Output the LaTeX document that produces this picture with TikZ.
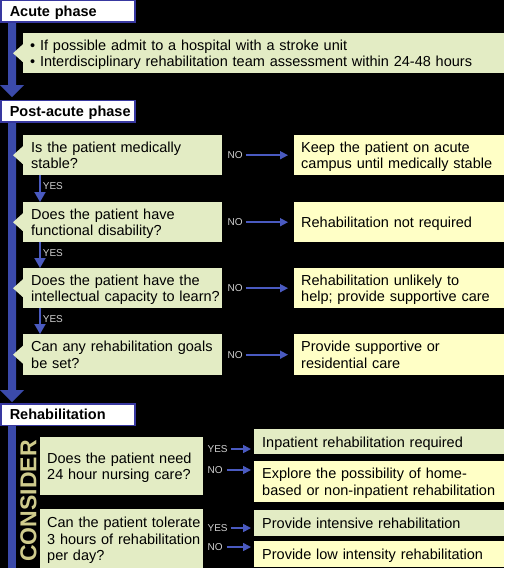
\documentclass[tikz,border=0pt]{standalone}
\usepackage{fontspec}
\setmainfont{Liberation Sans}
\usetikzlibrary{arrows.meta}
\definecolor{barblue}{HTML}{3B4AAA}
\definecolor{hdrblue}{HTML}{3838A0}
\definecolor{qfill}{HTML}{E3ECC4}
\definecolor{afill}{HTML}{FFFFC6}
\definecolor{considercol}{HTML}{CFCB8C}
\definecolor{lblgray}{HTML}{D0D0D0}
\definecolor{arrblue}{HTML}{4A5AC0}
\newcommand\boxlines[1]{\raisebox{-2.2pt}[\height][\depth]{\begin{tabular}{@{}l@{}}#1\end{tabular}}}
\begin{document}
\begin{tikzpicture}[x=1pt,y=-1pt,
  txt/.style={font=\fontsize{14.5}{16.5}\selectfont, text=black, align=left, anchor=north west, inner ysep=0pt},
  hdr/.style={draw=hdrblue, line width=1.5pt, fill=white, anchor=north west, minimum height=21.5pt,
              text width=116pt, inner xsep=9pt, inner ysep=0pt, align=left,
              font=\fontsize{14.5}{16}\selectfont\bfseries},
  qbox/.style={txt, fill=qfill, text width=183pt, inner xsep=8pt, minimum height=40pt},
  abox/.style={txt, fill=afill, text width=196pt, inner xsep=7pt, minimum height=40pt},
  rq/.style={txt, fill=qfill, text width=149pt, inner xsep=7pt},
  ra/.style={txt, text width=234pt, inner xsep=8pt},
  lbl/.style={font=\fontsize{10}{10}\selectfont, text=lblgray, inner sep=1pt},
  harr/.style={draw=arrblue, line width=1.6pt, -{Triangle[length=8pt,width=8pt]}},
  varr/.style={draw=arrblue, line width=1.8pt, -{Triangle[length=10pt,width=11pt]}},
  notch/.style={fill=qfill}
]
\useasboundingbox (0,0) rectangle (504,568);
\fill[black] (0,0) rectangle (504,568);
% phase bars
\fill[barblue] (8,21) -- (16,21) -- (16,85) -- (24,85) -- (12,97) -- (0,85) -- (8,85) -- cycle;
\fill[barblue] (8,121) -- (16,121) -- (16,390) -- (24,390) -- (12,402) -- (0,390) -- (8,390) -- cycle;
\fill[barblue] (8,424) rectangle (16,568);
% headers
\node[hdr] (h1) at (0,-0.5) {\boxlines{Acute phase}};
\node[hdr] (h2) at (0,99.5) {\boxlines{Post-acute phase}};
\node[hdr] (h3) at (0,403) {\boxlines{Rehabilitation}};
% acute phase
\node[qbox, text width=467pt, inner xsep=7pt] (acute) at (23,33)
  {\boxlines{\textbullet\ If possible admit to a hospital with a stroke unit\\
   \textbullet\ Interdisciplinary rehabilitation team assessment within 24-48 hours}};
\fill[notch] ([yshift=9pt]acute.west) -- ([xshift=-10pt]acute.west) -- ([yshift=-9pt]acute.west) -- cycle;
% post-acute questions
\node[qbox] (q1) at (23,135) {\boxlines{Is the patient medically\\stable?}};
\node[qbox] (q2) at (23,202) {\boxlines{Does the patient have\\functional disability?}};
\node[qbox] (q3) at (23,268) {\boxlines{Does the patient have the\\intellectual capacity to learn?}};
\node[qbox, minimum height=41pt] (q4) at (23,334) {\boxlines{Can any rehabilitation goals\\be set?}};
\foreach \q in {q1,q2,q3,q4}{
  \fill[notch] ([yshift=9pt]\q.west) -- ([xshift=-10pt]\q.west) -- ([yshift=-9pt]\q.west) -- cycle;
}
% post-acute answers
\node[abox] (a1) at (294,135) {\boxlines{Keep the patient on acute\\campus until medically stable}};
\node[abox] (a2) at (294,202) {\boxlines{Rehabilitation not required}};
\node[abox] (a3) at (294,268) {\boxlines{Rehabilitation unlikely to\\help; provide supportive care}};
\node[abox, minimum height=41pt] (a4) at (294,334) {\boxlines{Provide supportive or\\residential care}};
% NO arrows
\foreach \i in {1,2,3,4}{
  \node[lbl, anchor=west] (n\i) at ([xshift=4pt]q\i.east) {NO};
  \draw[harr, shorten <=2pt, shorten >=6pt] (n\i.east) -- (a\i.west);
}
% YES arrows
\draw[varr] ([xshift=17pt]q1.south west) -- node[lbl, right, pos=0.4, xshift=1pt] {YES} ([xshift=17pt]q2.north west);
\draw[varr] ([xshift=17pt]q2.south west) -- node[lbl, right, pos=0.4, xshift=1pt] {YES} ([xshift=17pt]q3.north west);
\draw[varr] ([xshift=17pt]q3.south west) -- node[lbl, right, pos=0.4, xshift=1pt] {YES} ([xshift=17pt]q4.north west);
% rehabilitation
\node[rotate=90, font=\fontsize{23}{23}\selectfont\bfseries, text=considercol, inner sep=0pt] (cons) at (28.5,501) {CONSIDER};
\node[rq, minimum height=58pt] (q5) at (40,437) {\boxlines{Does the patient need\\24 hour nursing care?}};
\node[rq, minimum height=59pt] (q6) at (40,509) {\boxlines{Can the patient tolerate\\3 hours of rehabilitation\\per day?}};
\node[ra, fill=qfill, minimum height=25pt] (r1) at (254,429) {\boxlines{Inpatient rehabilitation required}};
\node[ra, fill=afill, minimum height=41pt] (r2) at (254,461) {\boxlines{Explore the possibility of home-\\based or non-inpatient rehabilitation}};
\node[ra, fill=qfill, minimum height=26pt] (r3) at (254,510) {\boxlines{Provide intensive rehabilitation}};
\node[ra, fill=afill, minimum height=26pt] (r4) at (254,541) {\boxlines{Provide low intensity rehabilitation}};
\node[lbl, anchor=west] (y5) at ([xshift=3pt,yshift=-12pt]q5.north east) {YES};
\node[lbl, anchor=west] (n5) at ([xshift=3pt,yshift=-33pt]q5.north east) {NO};
\node[lbl, anchor=west] (y6) at ([xshift=3pt,yshift=-19pt]q6.north east) {YES};
\node[lbl, anchor=west] (n6) at ([xshift=3pt,yshift=-38pt]q6.north east) {NO};
\draw[harr, shorten <=2pt, shorten >=3pt] (y5.east) -- (y5.east -| r1.west);
\draw[harr, shorten <=3pt, shorten >=3pt] (n5.east) -- (n5.east -| r2.west);
\draw[harr, shorten <=2pt, shorten >=3pt] (y6.east) -- (y6.east -| r3.west);
\draw[harr, shorten <=3pt, shorten >=3pt] (n6.east) -- (n6.east -| r4.west);
\end{tikzpicture}
\end{document}
